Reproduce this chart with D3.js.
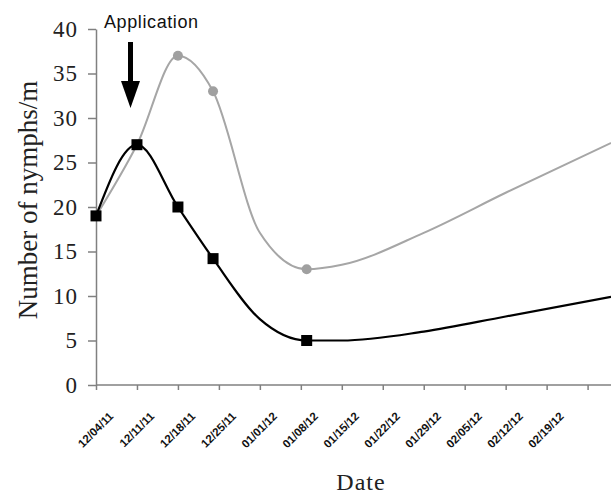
<!DOCTYPE html>
<html>
<head>
<meta charset="utf-8">
<script src="https://cdn.jsdelivr.net/npm/d3@7"></script>
<style>
  body { margin: 0; background: #fff; }
  svg { display: block; }
  .axis path, .axis line { stroke: #808080; stroke-width: 1.5; }
</style>
</head>
<body>
<script>
// dni od pierwszego pomiaru
var days = [0, 7, 14, 20, 28, 36, 42, 56, 70, 88];
var untreated = [19, 27, 37, 33, 17.1, 13, 13.5, 17.1, 21.6, 27.2];
var treated = [19, 27, 20, 14.2, 7.4, 5, 5.0, 6.0, 7.7, 9.9];
var markedDays = [0, 7, 14, 20, 36]; // tylko te pomiary maja znaczniki
var weekTicks = [0, 7, 14, 21, 28, 35, 42, 49, 56, 63, 70, 77, 84];
var dateLabels = ["12/04/11", "12/11/11", "12/18/11", "12/25/11", "01/01/12", "01/08/12",
                  "01/15/12", "01/22/12", "01/29/12", "02/05/12", "02/12/12", "02/19/12"];
var yTicks = [0, 5, 10, 15, 20, 25, 30, 35, 40];

var W = 611, H = 496;
var svg = d3.select("body").append("svg").attr("width", W).attr("height", H);

var x = d3.scaleLinear().domain([0, 88]).range([96, 611]);
var y = d3.scaleLinear().domain([0, 40]).range([385, 29]);

// os Y
var gy = svg.append("g").attr("class", "axis").attr("transform", "translate(96,0)")
	.call(d3.axisLeft(y).tickValues(yTicks).tickSize(8).tickPadding(10).tickSizeOuter(0));
gy.selectAll("text")
	.style("font-family", "'Liberation Serif', 'Times New Roman', serif")
	.style("font-size", "23px").style("letter-spacing", "1px").attr("fill", "#222");

// os X
var gx = svg.append("g").attr("class", "axis").attr("transform", "translate(0,385)")
	.call(d3.axisBottom(x).tickValues(weekTicks).tickSize(5).tickSizeOuter(0).tickFormat(""));
gx.select("path").attr("d", "M96,0H611");

svg.append("g").selectAll("text").data(dateLabels).enter().append("text")
	.attr("transform", function(d, i) { return "translate(" + (x(i * 7) + 18) + ",417) rotate(-45)"; })
	.attr("text-anchor", "end")
	.style("font-family", "'Liberation Sans', Arial, sans-serif")
	.style("font-size", "11.5px").style("font-weight", "bold").attr("fill", "#111")
	.text(function(d) { return d; });

// podpisy osi
svg.append("text").attr("transform", "translate(37,200) rotate(-90)")
	.attr("text-anchor", "middle")
	.style("font-family", "'Liberation Serif', 'Times New Roman', serif")
	.style("font-size", "27px").attr("fill", "#222")
	.text("Number of nymphs/m");
svg.append("text").attr("x", 361).attr("y", 490).attr("text-anchor", "middle")
	.style("font-family", "'Liberation Serif', 'Times New Roman', serif")
	.style("font-size", "24px").style("letter-spacing", "1px").attr("fill", "#222")
	.text("Date");

// linie
var line = d3.line().curve(d3.curveMonotoneX)
	.x(function(d) { return x(d[0]); }).y(function(d) { return y(d[1]); });
var grayPts = days.map(function(d, i) { return [d, untreated[i]]; });
var blackPts = days.map(function(d, i) { return [d, treated[i]]; });
var isMarked = function(d) { return markedDays.indexOf(d[0]) >= 0; };

svg.append("path").attr("d", line(grayPts)).attr("fill", "none")
	.attr("stroke", "#a6a6a6").attr("stroke-width", 2);
svg.append("path").attr("d", line(blackPts)).attr("fill", "none")
	.attr("stroke", "#000").attr("stroke-width", 2.2);

svg.append("g").selectAll("circle").data(grayPts.filter(isMarked)).enter().append("circle")
	.attr("cx", function(d) { return x(d[0]); }).attr("cy", function(d) { return y(d[1]); })
	.attr("r", 5).attr("fill", "#a0a0a0");
svg.append("g").selectAll("rect").data(blackPts.filter(isMarked)).enter().append("rect")
	.attr("x", function(d) { return x(d[0]) - 5.5; }).attr("y", function(d) { return y(d[1]) - 5.5; })
	.attr("width", 11).attr("height", 11).attr("fill", "#000");

// strzalka "Application"
svg.append("text").attr("x", 104).attr("y", 28)
	.style("font-family", "'Liberation Sans', Arial, sans-serif")
	.style("font-size", "18px").style("letter-spacing", "0.6px").attr("fill", "#111")
	.text("Application");
svg.append("rect").attr("x", 128).attr("y", 42).attr("width", 5).attr("height", 42).attr("fill", "#000");
svg.append("path").attr("d", "M121,81 L140,81 L130.5,108 Z").attr("fill", "#000");
</script>
</body>
</html>
